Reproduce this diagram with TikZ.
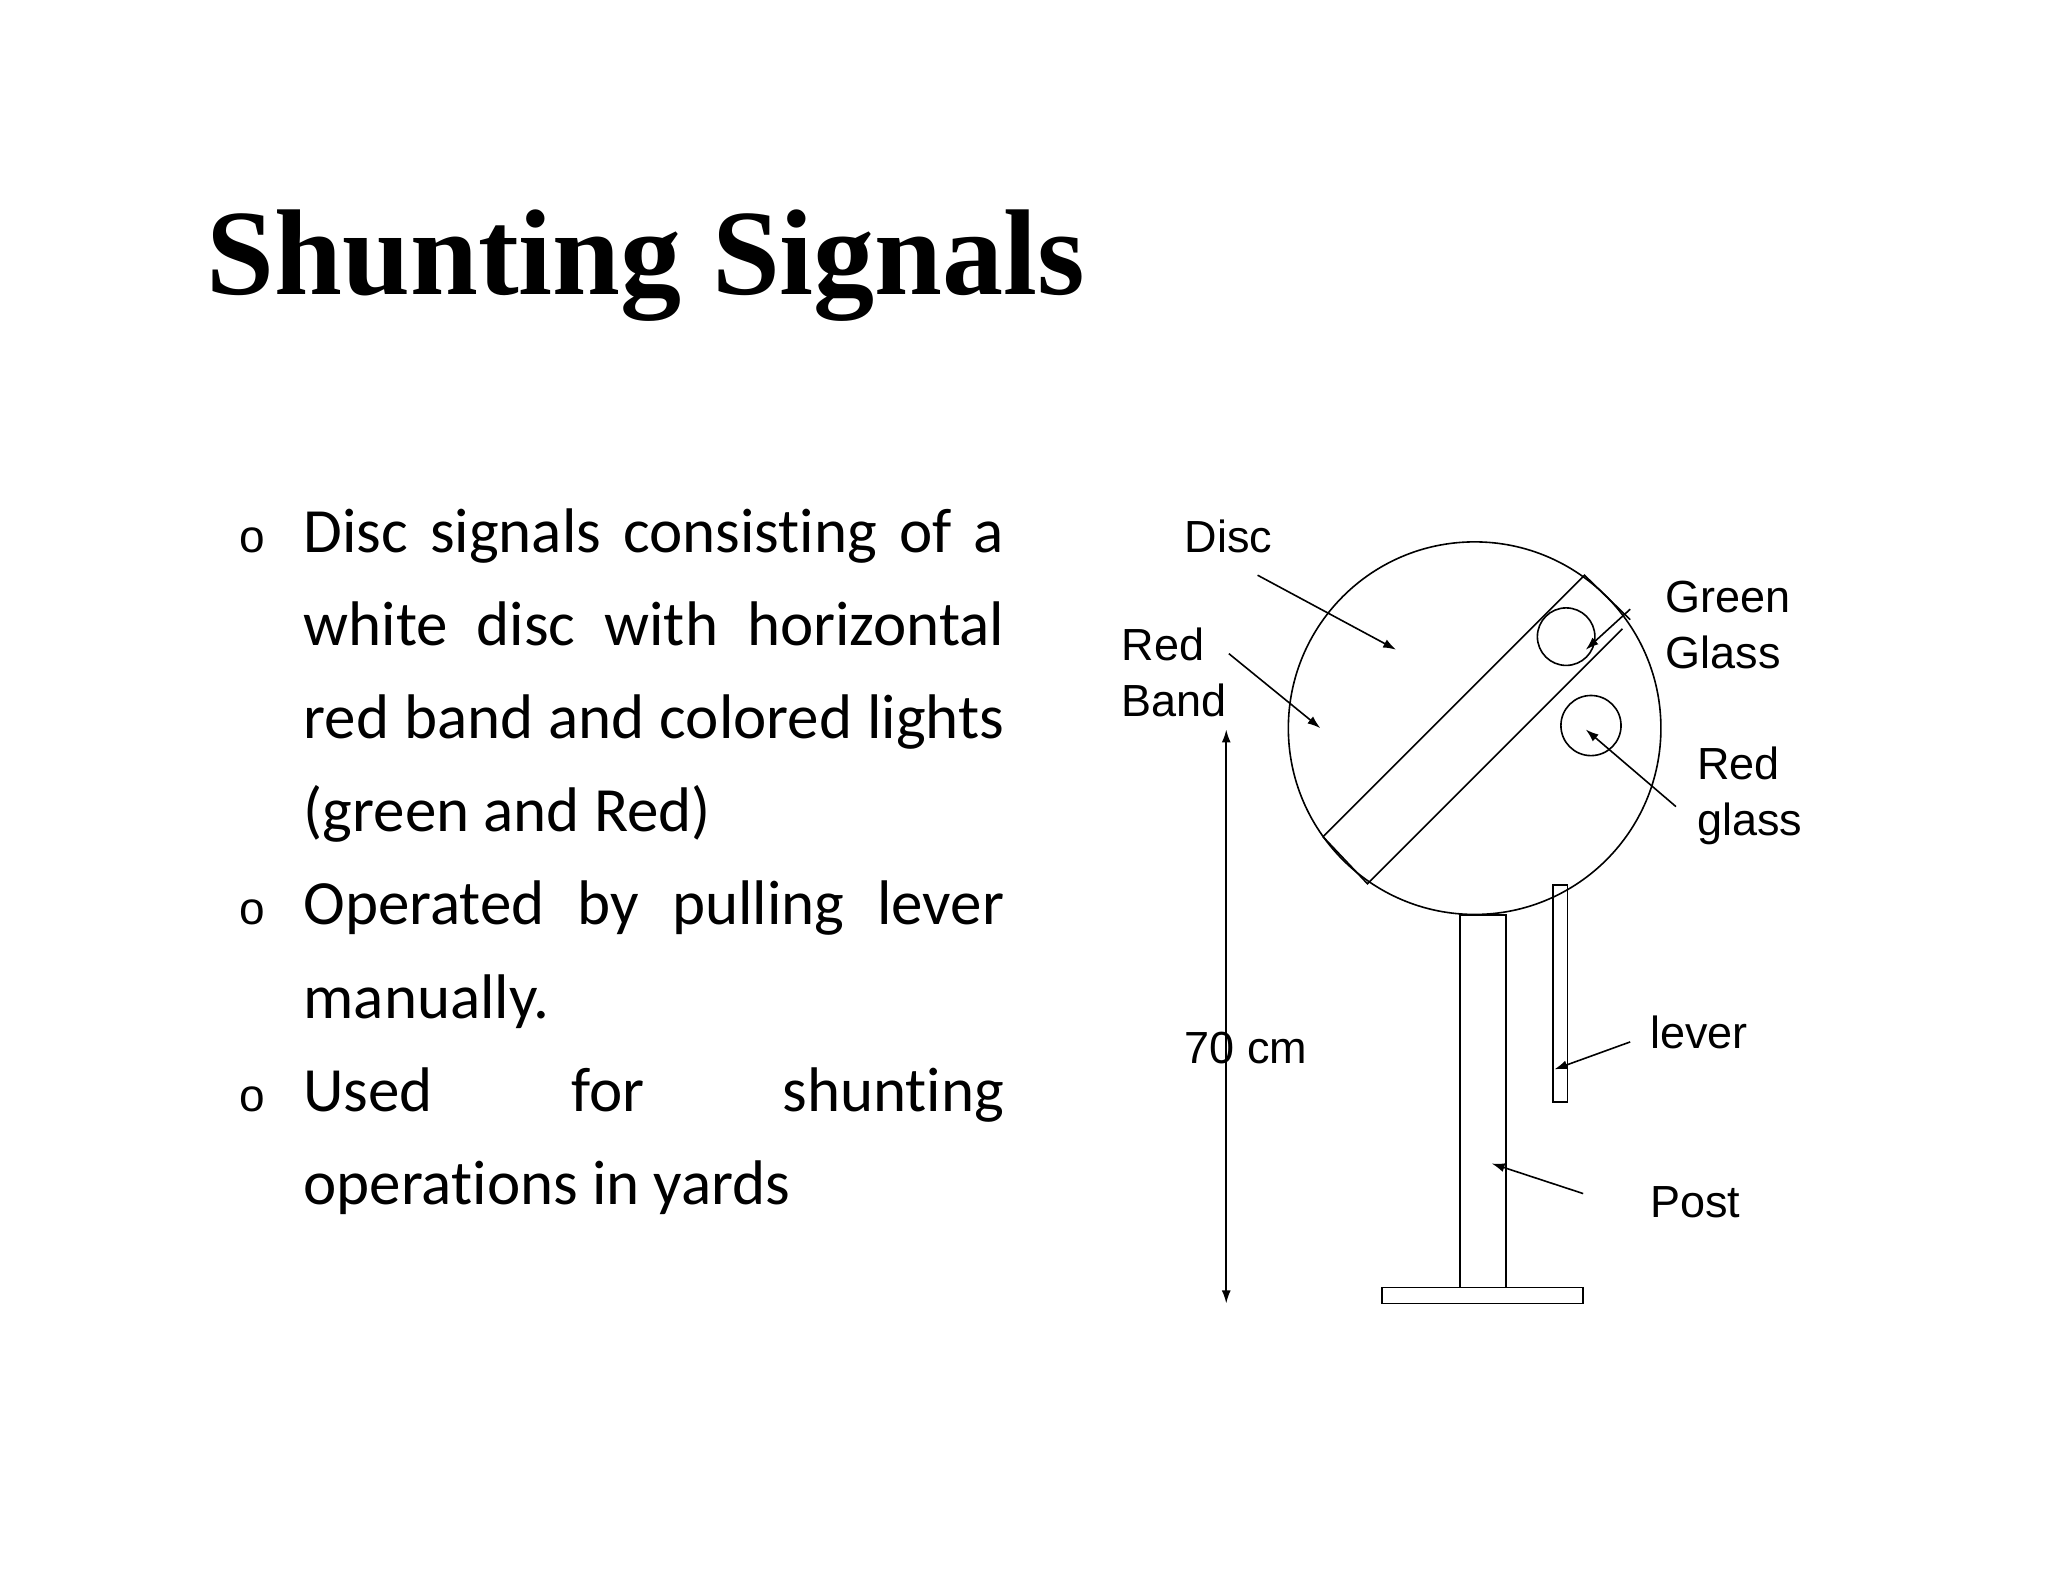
\documentclass[tikz,border=0pt]{standalone}
\usepackage{fontspec}
\usetikzlibrary{arrows.meta}
\setmainfont{Carlito}[Ligatures=NoCommon]
\newfontfamily\arialf{Liberation Sans}
\newfontfamily\titlef{Liberation Serif}
\begin{document}
\begin{tikzpicture}[x=1.3073pt,y=-1.3073pt,
  ln/.style={line width=1.6pt},
  arr/.style={ln,-{Latex[length=13pt,width=9pt]}},
  lbl/.style={font=\arialf\fontsize{45}{56}\selectfont,anchor=west,inner sep=0pt,align=left},
  body/.style={font=\fontsize{63}{94}\selectfont,anchor=base west,inner sep=0pt},
  bul/.style={font=\arialf\fontsize{46}{48}\selectfont,anchor=base,inner sep=0pt}]
\useasboundingbox[fill=white] (0,0) rectangle (1566.6,1210.4);
\node[font=\titlef\bfseries\fontsize{120}{130}\selectfont,anchor=base west,inner sep=0pt] (title) at (158,225) {\resizebox{672\dimexpr1.3073pt\relax}{!}{Shunting Signals}};
% bullets
\node[bul] (b1) at (193,423) {o};
\node[bul] (b2) at (193,707) {o};
\node[bul] (b3) at (193,850) {o};
\node[body] (l1) at (232,423) {\makebox[536\dimexpr1.3073pt\relax][s]{Disc signals consisting of a}};
\node[body] (l2) at (232,494) {\makebox[536\dimexpr1.3073pt\relax][s]{white disc with horizontal}};
\node[body] (l3) at (232,565) {\makebox[536\dimexpr1.3073pt\relax][s]{red band and colored lights}};
\node[body] (l4) at (232,636) {(green and Red)};
\node[body] (l5) at (232,707) {\makebox[536\dimexpr1.3073pt\relax][s]{Operated by pulling lever}};
\node[body] (l6) at (232,779) {manually.};
\node[body] (l7) at (232,850) {\makebox[536\dimexpr1.3073pt\relax][s]{Used for shunting}};
\node[body] (l8) at (232,921) {operations in yards};
% disc
\node[ln,draw,circle,minimum size=285*1.3073pt,inner sep=0pt] (disc) at (1128,557) {};
\draw[ln] (1012,640) -- (1212,440) -- (1247,474);
\draw[ln] (1012,640) -- (1046,676) -- (1241,481);
\node[ln,draw,circle,minimum size=44*1.3073pt,inner sep=0pt] (gg) at (1198,487) {};
\node[ln,draw,circle,minimum size=46*1.3073pt,inner sep=0pt] (rg) at (1217,555) {};
% post, base, lever
\draw[ln] (1117,985) -- (1117,700) -- (1152,700) -- (1152,985);
\draw[ln] (1057,985) rectangle (1211,997);
\draw[ln] (1188,677) rectangle (1199,843);
% dimension
\coordinate (dt) at (938,558);
\coordinate (db) at (938,997);
\draw[ln,{Latex[length=13pt,width=9pt]}-{Latex[length=13pt,width=9pt]}] (dt) -- (db);
% labels
\node[lbl] (ldisc) at (906,410) {Disc};
\node[lbl] (lband) at (858,514) {Red\\Band};
\node[lbl] (lgreen) at (1274,478) {Green\\Glass};
\node[lbl] (lred) at (1298,609) {Red\\glass};
\node[lbl] (llever) at (1262,790) {lever};
\node[lbl] (lpost) at (1262,920) {Post};
\node[lbl] (l70) at (906,802) {70 cm};
% arrows
\coordinate (a1) at (962,440); \coordinate (a1e) at (1068,497);
\draw[arr] (a1) -- (a1e);
\coordinate (a2) at (940,500); \coordinate (a2e) at (1010,557);
\draw[arr] (a2) -- (a2e);
\coordinate (a3) at (1247,466); \coordinate (a3e) at (1213,497);
\draw[arr] (a3) -- (a3e);
\coordinate (a4) at (1282,617); \coordinate (a4e) at (1213,558);
\draw[arr] (a4) -- (a4e);
\coordinate (a5) at (1247,797); \coordinate (a5e) at (1189,818);
\draw[arr] (a5) -- (a5e);
\coordinate (a6) at (1211,913); \coordinate (a6e) at (1141,890);
\draw[arr] (a6) -- (a6e);
\end{tikzpicture}
\end{document}
